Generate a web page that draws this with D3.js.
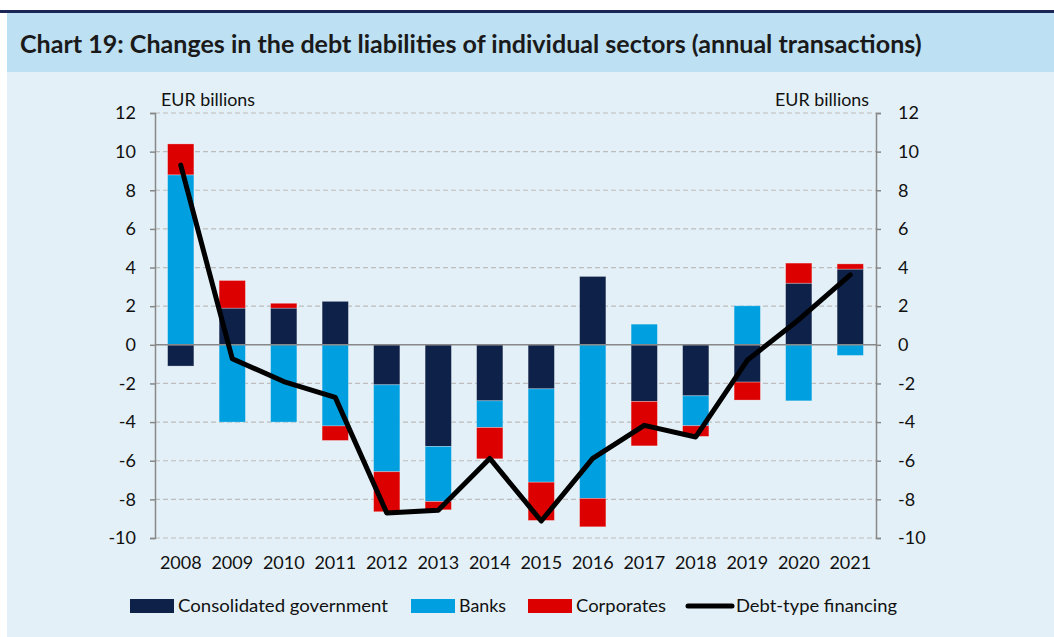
<!DOCTYPE html>
<html>
<head>
<meta charset="utf-8">
<script src="https://cdn.jsdelivr.net/npm/d3@7"></script>
<style>
  body { margin: 0; background: #fff; }
  svg { display: block; font-family: Lato, "Noto Sans", sans-serif; }
</style>
</head>
<body>
<div id="chart"></div>
<script>
// Chart 19: changes in debt liabilities by sector, EUR billions

const years = ['2008', '2009', '2010', '2011', '2012', '2013', '2014',
               '2015', '2016', '2017', '2018', '2019', '2020', '2021'];
const government = [-1.1, 1.9, 1.9, 2.25, -2.07, -5.26, -2.9, -2.28, 3.54, -2.93, -2.64, -1.93, 3.19, 3.92];
const banks = [8.8, -4.0, -4.0, -4.2, -4.5, -2.85, -1.38, -4.83, -7.95, 1.07, -1.55, 2.02, -2.9, -0.55];
const corporates = [1.6, 1.43, 0.25, -0.75, -2.07, -0.43, -1.62, -1.98, -1.47, -2.3, -0.55, -0.93, 1.04, 0.27];
const debtFinancing = [9.3, -0.72, -1.9, -2.72, -8.7, -8.56, -5.88, -9.12, -5.88, -4.17, -4.77, -0.8, 1.3, 3.62];
const yTicks = [-10, -8, -6, -4, -2, 0, 2, 4, 6, 8, 10, 12];

const series = [
    { key: 'gov', name: 'Consolidated government', color: '#0d2149' },
    { key: 'banks', name: 'Banks', color: '#009fe0' },
    { key: 'corp', name: 'Corporates', color: '#dd0000' }
];

const width = 1054;
const height = 637;
const margin = { left: 155, right: 178, top: 113, bottom: 99 };
const labelFont = 'Lato, "Noto Sans", sans-serif';

const svg = d3.select('#chart')
    .append('svg')
    .attr('width', width)
    .attr('height', height);

// Panel background + header band
svg.append('rect').attr('x', 7).attr('y', 13).attr('width', width - 7).attr('height', height - 13).attr('fill', '#e3f0f7');
svg.append('rect').attr('x', 7).attr('y', 13).attr('width', width - 7).attr('height', 59).attr('fill', '#bde0f3');
svg.append('rect').attr('x', 0).attr('y', 10).attr('width', width).attr('height', 3).attr('fill', '#1b2656');

const title = svg.append('text')
    .attr('x', 20)
    .attr('y', 53)
    .style('font-weight', 'bold')
    .style('font-size', '22px')
    .style('fill', '#1a1a1a')
    .text('Chart 19: Changes in the debt liabilities of individual sectors (annual transactions)');
// fit the title to the reference width
const tw = title.node().getComputedTextLength();
title.style('font-size', (22 * 902 / tw) + 'px');

// helper: stretch/squeeze a text to the width it has in the reference
function fitWidth(sel, w) {
    sel.attr('textLength', w).attr('lengthAdjust', 'spacingAndGlyphs');
}

const x = d3.scaleBand()
    .domain(years)
    .range([margin.left, width - margin.right])
    .paddingInner(0.49)
    .paddingOuter(0.245);

const y = d3.scaleLinear()
    .domain([-10, 12])
    .range([height - margin.bottom, margin.top]);

// Gridlines
svg.append('g')
    .selectAll('line')
    .data(yTicks.filter(d => d !== 0))
    .join('line')
    .attr('x1', margin.left)
    .attr('x2', width - margin.right)
    .attr('y1', d => y(d))
    .attr('y2', d => y(d))
    .attr('stroke', '#bdbdbd')
    .attr('stroke-width', 1.2)
    .attr('stroke-dasharray', '5,3');

// Stacked bars (diverging)
const table = years.map((yr, i) => ({
    year: yr, gov: government[i], banks: banks[i], corp: corporates[i]
}));

const stack = d3.stack()
    .keys(series.map(s => s.key))
    .offset(d3.stackOffsetDiverging);

const stacked = stack(table);

svg.append('g')
    .selectAll('g')
    .data(stacked)
    .join('g')
    .attr('fill', (d, i) => series[i].color)
    .selectAll('rect')
    .data(d => d)
    .join('rect')
    .attr('x', d => x(d.data.year))
    .attr('width', x.bandwidth())
    .attr('y', d => y(Math.max(d[0], d[1])))
    .attr('height', d => Math.abs(y(d[0]) - y(d[1])))
    .attr('stroke', 'rgba(255,255,255,0.35)')
    .attr('stroke-width', 0.8);

// Zero line
svg.append('line')
    .attr('x1', margin.left)
    .attr('x2', width - margin.right)
    .attr('y1', y(0))
    .attr('y2', y(0))
    .attr('stroke', '#888')
    .attr('stroke-width', 1.5);

// Axes
const fmt = d => String(d);
const leftAxis = svg.append('g')
    .attr('transform', `translate(${margin.left},0)`)
    .call(d3.axisLeft(y).tickValues(yTicks).tickFormat(fmt).tickSize(5).tickPadding(14));

const rightAxis = svg.append('g')
    .attr('transform', `translate(${width - margin.right},0)`)
    .call(d3.axisRight(y).tickValues(yTicks).tickFormat(fmt).tickSize(5).tickPadding(17));

[leftAxis, rightAxis].forEach(ax => {
    ax.select('.domain').attr('stroke', '#888').attr('stroke-width', 1.5);
    ax.selectAll('.tick line').attr('stroke', '#888').attr('stroke-width', 1.5);
    ax.selectAll('.tick text')
        .attr('font-family', labelFont)
        .attr('font-size', 18)
        .attr('fill', '#111');
});

const bottomAxis = svg.append('g')
    .attr('transform', `translate(0,${height - margin.bottom})`)
    .call(d3.axisBottom(x).tickSize(0).tickPadding(18));
bottomAxis.select('.domain').remove();
bottomAxis.selectAll('.tick text')
    .attr('font-family', labelFont)
    .attr('font-size', 18)
    .attr('fill', '#111');

// Unit labels
const unitL = svg.append('text')
    .attr('x', 161).attr('y', 106)
    .style('font-size', '18px').style('fill', '#111')
    .text('EUR billions');
fitWidth(unitL, 94);
const unitR = svg.append('text')
    .attr('x', 775).attr('y', 106)
    .style('font-size', '18px').style('fill', '#111')
    .text('EUR billions');
fitWidth(unitR, 94);

// Debt-type financing line
const line = d3.line()
    .x((d, i) => x(years[i]) + x.bandwidth() / 2)
    .y(d => y(d));

svg.append('path')
    .datum(debtFinancing)
    .attr('fill', 'none')
    .attr('stroke', '#000')
    .attr('stroke-width', 5)
    .attr('stroke-linejoin', 'round')
    .attr('stroke-linecap', 'round')
    .attr('d', line);

// Legend
const legendItems = [
    { name: 'Consolidated government', color: '#0d2149', type: 'rect', x: 130, w: 210 },
    { name: 'Banks', color: '#009fe0', type: 'rect', x: 411, w: 47 },
    { name: 'Corporates', color: '#dd0000', type: 'rect', x: 528, w: 90 },
    { name: 'Debt-type financing', color: '#000', type: 'line', x: 686, w: 161 }
];

const legend = svg.append('g');
legendItems.forEach(item => {
    const g = legend.append('g').attr('transform', `translate(${item.x},606)`);
    if (item.type === 'rect') {
        g.append('rect')
            .attr('x', 0).attr('y', -7)
            .attr('width', 44).attr('height', 14)
            .attr('fill', item.color);
    } else {
        g.append('line')
            .attr('x1', 2).attr('x2', 46)
            .attr('y1', 0).attr('y2', 0)
            .attr('stroke', item.color)
            .attr('stroke-width', 5)
            .attr('stroke-linecap', 'round');
    }
    const t = g.append('text')
        .attr('x', item.type === 'rect' ? 48 : 50)
        .attr('y', 0)
        .attr('dy', '0.35em')
        .style('font-size', '18px')
        .style('fill', '#111')
        .text(item.name);
    fitWidth(t, item.w);
});
</script>
</body>
</html>
